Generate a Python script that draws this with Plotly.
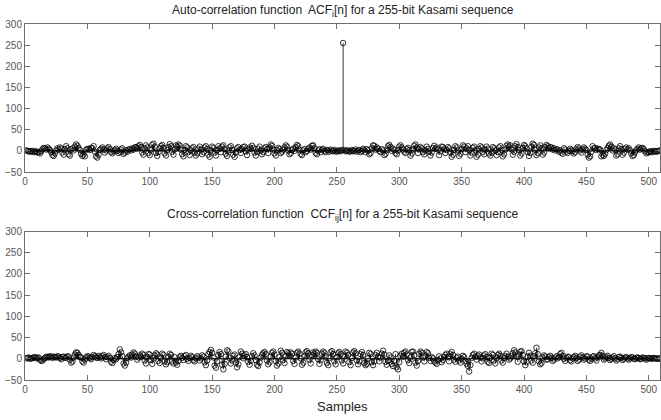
import plotly.graph_objects as go

# ---- data ----
samples = list(range(1, 510))

acf = [
    1, 0, -1, -2, -1, 0, -3, -2, -1, -4,
    -3, -6, -1, 4, 7, 6, 3, 8, 5, 2,
    -3, -10, -12, -6, 1, 6, 3, 8, 5, -4,
    -9, 4, 11, 6, -8, -11, 3, 6, 1, 10,
    15, 12, 7, 2, -7, -12, -9, -13, 3, 4,
    5, 2, 7, 6, 11, -2, -13, -16, -9, 2,
    5, 8, 3, -4, 1, 6, 9, 4, -3, -6,
    -1, 2, 5, 0, -5, -2, 3, 6, -7, -4,
    1, -2, 3, 4, 1, 6, 3, 8, 9, 6,
    11, 14, 9, -4, -9, 6, 13, 8, -5, -10,
    3, 14, 17, 10, -5, -12, -3, 6, 11, 14,
    7, -6, -11, 2, 9, 16, 11, -2, -9, 4,
    13, 10, 15, 12, 3, -8, -13, 2, 11, 8,
    -3, -10, 1, 6, 9, -4, -11, -6, 5, 10,
    3, -8, -3, 8, 11, 4, -9, -14, 1, 10,
    7, -4, -11, 2, 11, 6, -3, 10, 13, 4,
    -7, -12, 1, 8, 11, 2, -9, -14, -3, 6,
    9, 2, -5, 4, 9, 10, -1, -10, 3, 8,
    5, 12, 7, -4, -11, -2, 5, 10, 1, -8,
    -3, 6, 9, 4, -5, 8, 15, 12, 3, -6,
    -11, 2, 7, 4, -5, -2, 3, 8, 13, 10,
    1, -8, -5, 2, 5, 0, 9, 14, 11, 2,
    -7, -10, 1, 4, -3, 0, 5, 8, 3, 12,
    13, 6, -5, -8, 1, 4, -3, 2, 5, 0,
    -3, 2, 1, -2, 3, 0, -1, 2, -1, -2,
    1, 0, -1, 2,
    255,
    2, -1, 0, 1,
    -2, -1, 2, -1, 0, 3, -2, 1, 2, -3,
    0, 5, 2, -3, 4, 1, -8, -5, 6, 13,
    12, 3, 8, 5, 0, -3, 4, 1, -10, -7,
    2, 11, 14, 9, 0, 5, 2, -5, -8, 1,
    10, 13, 8, 3, -2, -5, 4, 7, 2, -11,
    -6, 3, 12, 15, 8, -5, 4, 9, 6, -3,
    -8, 1, 10, 5, -2, -11, -4, 7, 12, 5,
    8, 3, -10, -1, 10, 9, 4, -5, 2, 9,
    6, -3, -14, -9, 2, 11, 8, 1, -12, -7,
    4, 13, 10, -3, 6, 11, 2, -11, -4, 7,
    10, 1, -14, -9, 4, 11, 8, -3, -8, 3,
    10, 5, -6, -11, -4, 9, 6, 1, -10, -3,
    8, 11, 2, -13, -8, 3, 12, 15, 10, 13,
    4, -9, -2, 11, 16, 9, 2, -11, -6, 7,
    14, 11, 6, -3, -12, -5, 10, 17, 14, 3,
    -10, -5, 8, 13, 6, -9, -4, 9, 14, 11,
    6, 9, 8, 3, 6, 1, 4, 3, -2, 1,
    -4, -7, 6, 3, -2, -5, 0, 5, 2, -1,
    -6, -3, 4, 9, 6, 1, -4, 3, 8, 5,
    2, -9, -16, -13, -2, 11, 6, 7, 2, 5,
    4, 3, -13, -9, -12, -7, 2, 7, 12, 15,
    10, 1, 6, 3, -11, -8, 6, 11, 4, -9,
    -4, 5, 8, 3, 6, 1, -6, -12, -10, -3,
    2, 5, 8, 3, 6, 7, 4, -1, -6, -3,
    -4, -1, -2, -3, 0, -1, -2, -1, 0, 1,
]

ccf = [
    1, 2, 3, 0, 1, 2, 3, 4, 1, 2,
    3, -2, -5, -4, -1, 2, 5, 4, 3, 6,
    5, 2, 5, 4, 3, 6, 5, 2, -1, 4,
    5, 2, 3, 6, 5, -2, -9, -6, 3, 10,
    15, 14, 9, 4, 3, -6, -9, -2, 3, 6,
    5, 2, -1, 4, 9, 6, 3, 2, 7, 4,
    1, 6, 9, 4, -1, 4, 7, 2, -7, -10,
    -3, 2, -1, 4, 11, 22, 15, 6, -11, -16,
    -9, 2, 5, 8, 3, 10, 15, 12, 5, -2,
    3, 8, 5, 12, 9, -4, -11, 4, 11, 10,
    -3, -12, 1, 8, 13, 10, -5, -10, 3, 12,
    9, -6, -13, -8, 5, 12, 9, -6, -11, 4,
    -9, -14, -5, 4, 7, 2, -3, 6, 9, 0,
    -5, 2, 7, 4, -3, -6, 1, 6, 3, -4,
    1, 8, 5, -8, -15, -4, 11, 16, 21, 14,
    3, -16, -21, -6, 9, 16, 11, -14, -25, -12,
    5, 20, 17, 2, -11, -4, 7, 10, -9, -20,
    -13, 4, 17, 12, 1, 8, 11, 4, -7, -14,
    -5, 6, 13, 8, -3, -14, -17, -8, 3, 10,
    13, 16, 11, -4, -13, -8, 5, 14, 17, 10,
    -5, -16, -11, 4, 19, 14, -3, -10, 7, 16,
    13, 8, 15, 12, -5, -12, 3, 14, 17, 12,
    1, -14, -9, 6, 15, 18, 13, -2, -11, 8,
    15, 12, 17, 14, -1, -12, -3, 12, 17, 14,
    5, -10, -15, 2, 15, 18, 11, -6, -13, 4,
    13, 16, 11, -4, -11, 6, 17, 14, 9, -8,
    -15, 2, 15, 18, 13, -4, -13, -6, 11, 16,
    9, -10, -15, -12, 1, 14, 11, -8, -15, -6,
    9, 14, 5, -6, 3, 12, 19, 10, -7, -14,
    -5, 8, 3, -12, -17, -4, 11, -20, -25, -8,
    7, 12, 5, 14, 17, 10, -3, -10, 3, 16,
    17, 8, -9, -16, -5, 12, 17, 14, 3, -6,
    7, 16, 13, 2, -5, 4, 1, -6, -9, -12,
    -3, 6, 1, -8, -3, 4, 9, 12, 5, -6,
    11, 16, 9, -2, -7, 2, 5, -4, -9, 0,
    7, 4, -5, -12, -17, -30, -15, 2, 9, 12,
    5, -2, 7, 10, 3, -6, 1, 8, 11, 4,
    -7, -10, 3, 12, 9, -4, -11, 2, 9, 12,
    7, -4, -9, 2, 7, 12, 5, -2, 1, 6,
    13, 20, 15, 6, -7, 10, 17, 18, 9, -6,
    -15, -8, 5, 14, 7, -4, -9, 6, 13, 26,
    11, -6, -13, -10, 3, 8, 5, -2, -1, 4,
    7, 2, -5, -2, 3, 6, 1, 4, 11, 14,
    7, 0, -5, 2, 5, 4, -3, -6, 1, 4,
    7, 2, -5, -2, 5, 8, 3, -2, 1, 6,
    5, -2, -5, 0, 5, 6, 1, -4, 3, 8,
    9, 14, 7, -2, 1, 4, 7, 2, -3, 0,
    3, 6, 1, -4, -1, 4, 5, 2, -3, 0,
    3, 4, 1, -2, 1, 4, 3, 0, -1, 2,
    3, 2, -1, 0, 3, 2, 1, -2, 1, 2,
    1, 0, 1, 2, 1, 0, 1, 0, 1,
]

x_range = [0, 509]
y_range = [-50, 300]
y_ticks = [-50, 0, 50, 100, 150, 200, 250, 300]
x_ticks = [0, 50, 100, 150, 200, 250, 300, 350, 400, 450, 500]

title_top = "Auto-correlation function  ACF<sub>i</sub>[n] for a 255-bit Kasami sequence"
title_bot = "Cross-correlation function  CCF<sub>ij</sub>[n] for a 255-bit Kasami sequence"
x_label = "Samples"

FONT = "Liberation Sans, Arial, sans-serif"
AXC = "#6e6e6e"


def stem_traces(xs, ys, xa, ya):
    sx, sy = [], []
    for a, b in zip(xs, ys):
        sx += [a, a, None]
        sy += [0, b, None]
    lines = go.Scatter(x=sx, y=sy, mode="lines", line=dict(color="black", width=0.8),
                       xaxis=xa, yaxis=ya, hoverinfo="skip", showlegend=False)
    base = go.Scatter(x=x_range, y=[0, 0], mode="lines", line=dict(color="black", width=1),
                      xaxis=xa, yaxis=ya, hoverinfo="skip", showlegend=False)
    marks = go.Scatter(x=xs, y=ys, mode="markers",
                       marker=dict(symbol="circle-open", size=5.5,
                                   color="black", line=dict(color="black", width=0.8)),
                       xaxis=xa, yaxis=ya, showlegend=False)
    return [lines, base, marks]


fig = go.Figure()
for t in stem_traces(samples, acf, "x", "y"):
    fig.add_trace(t)
for t in stem_traces(samples, ccf, "x2", "y2"):
    fig.add_trace(t)

ax_common = dict(showgrid=False, zeroline=False, showline=True, linecolor=AXC, linewidth=1,
                 mirror="ticks", ticks="inside", ticklen=5, tickcolor=AXC, tickwidth=1,
                 automargin=False,
                 tickfont=dict(family=FONT, size=10, color="#555555"))

# Plot area spans y 24 -> 380 of the 420px figure.
H = 356.0

fig.update_layout(
    width=661, height=420,
    margin=dict(l=25, r=1, t=24, b=40, autoexpand=False),
    paper_bgcolor="white", plot_bgcolor="white",
    font=dict(family=FONT, color="#222222"),
    xaxis=dict(domain=[0, 1], range=x_range, tickvals=x_ticks, anchor="y", **ax_common),
    yaxis=dict(domain=[(380 - 172) / H, 1], range=y_range, tickvals=y_ticks, anchor="x", **ax_common),
    xaxis2=dict(domain=[0, 1], range=x_range, tickvals=x_ticks, anchor="y2", **ax_common),
    yaxis2=dict(domain=[0, (380 - 231.5) / H], range=y_range, tickvals=y_ticks, anchor="x2", **ax_common),
    annotations=[
        dict(text=title_top, x=0.5, y=(380 - 11) / H, xref="paper", yref="paper", showarrow=False,
             font=dict(family=FONT, size=12, color="#222222"), yanchor="middle"),
        dict(text=title_bot, x=0.5, y=(380 - 215) / H, xref="paper", yref="paper", showarrow=False,
             font=dict(family=FONT, size=12, color="#222222"), yanchor="middle"),
        dict(text=x_label, x=0.5, y=(380 - 407) / H, xref="paper", yref="paper", showarrow=False,
             font=dict(family=FONT, size=13, color="#222222"), yanchor="middle"),
    ],
)

# remove the browser's default 8px body margin so the figure sits at the window's corner
fig.write_html("out.html",
               config={"displayModeBar": False},
               post_script="document.body.style.margin='0px';document.body.style.overflow='hidden';")
